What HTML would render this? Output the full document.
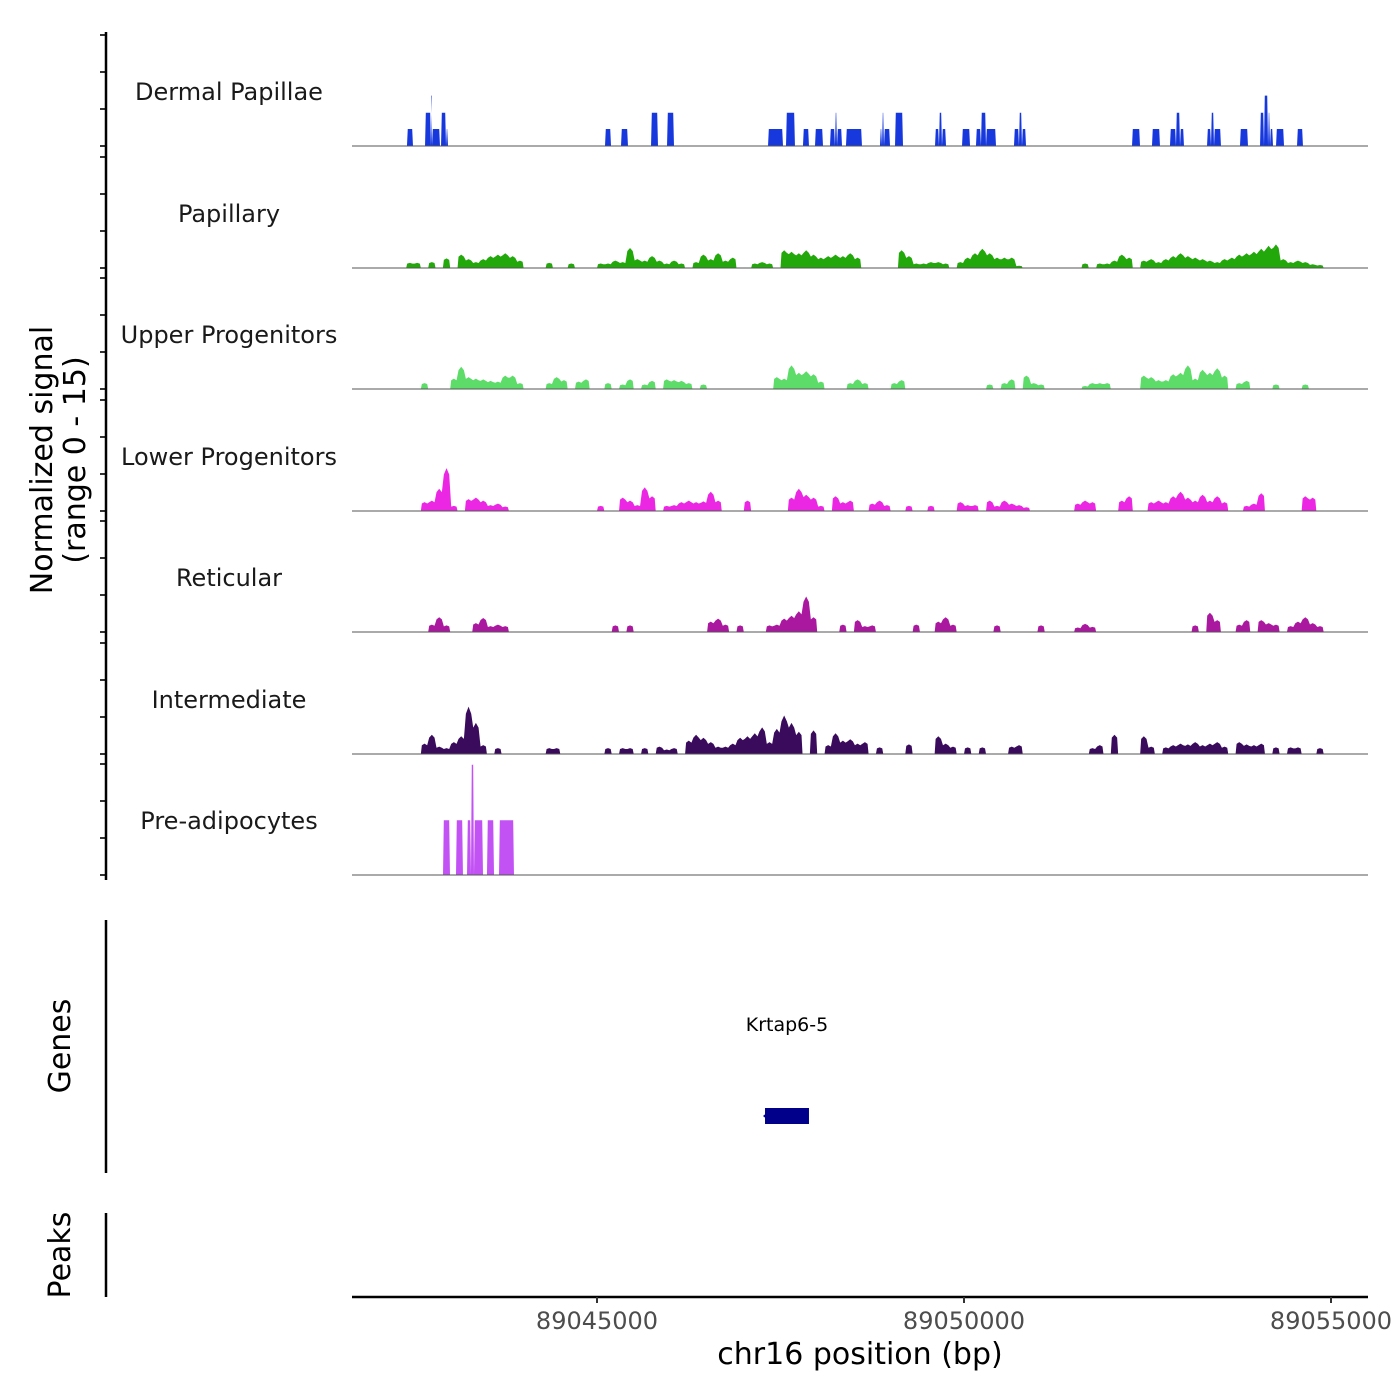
<!DOCTYPE html>
<html><head><meta charset="utf-8"><style>
body{margin:0;background:#fff;}
svg{display:block;font-family:"DejaVu Sans","Liberation Sans",sans-serif;}
</style></head><body>
<svg id="chart" width="1400" height="1400" viewBox="0 0 1400 1400"></svg>
<script>
const trackNames = ["Dermal Papillae","Papillary","Upper Progenitors","Lower Progenitors","Reticular","Intermediate","Pre-adipocytes"];
const trackColors = ["#1638dd","#22a80b","#5ddc69","#ec27e4","#aa189f","#3a0b5c","#c352f5"];
const xTicks = [89045000, 89050000, 89055000];
const binStart = 89041700;
const binSize = 100;
// segment tracks: [start, end, value]
const dermalPapillae = [[89042411,89042493,2.3],[89042657,89042738,4.5],[89042738,89042752,6.8],[89042752,89042861,2.3],[89042875,89042943,4.5],[89042943,89042970,2.3],
[89045109,89045191,2.3],[89045327,89045422,2.3],[89045736,89045831,4.5],[89045954,89046049,4.5],[89047330,89047534,2.3],[89047575,89047697,4.5],
[89047806,89047888,2.3],[89047970,89048079,2.3],[89048174,89048242,2.3],[89048242,89048270,4.5],[89048270,89048338,2.3],[89048392,89048610,2.3],
[89048855,89048883,2.3],[89048883,89048910,4.5],[89048910,89048992,2.3],[89049060,89049169,4.5],[89049605,89049659,2.3],[89049659,89049700,4.5],[89049700,89049755,2.3],
[89049973,89050082,2.3],[89050163,89050231,2.3],[89050231,89050300,4.5],[89050300,89050436,2.3],[89050681,89050749,2.3],[89050749,89050790,4.5],[89050790,89050845,2.3],
[89052289,89052398,2.3],[89052561,89052670,2.3],[89052806,89052888,2.3],[89052888,89052943,4.5],[89052943,89052997,2.3],[89053311,89053365,2.3],[89053365,89053406,4.5],[89053406,89053501,2.3],
[89053760,89053869,2.3],[89054033,89054087,4.5],[89054087,89054142,6.8],[89054142,89054169,4.5],[89054169,89054210,2.3],[89054251,89054360,2.3],[89054537,89054618,2.3]];
const preAdipocytes = [[89042902,89042997,7.4],[89043079,89043174,7.4],[89043229,89043283,7.4],[89043283,89043324,14.9],[89043324,89043447,7.4],[89043501,89043597,7.4],[89043665,89043869,7.4]];
// binned tracks (100 bp bins from binStart)
const papillary = [0,0,0,0,0,0,0,.7,.7,0, .8,0,1.3,0,1.8,1.2,.8,1.2,1.6,1.8, 2,1.6,1,0,0,0,.7,0,0,.6, 0,0,0,.6,.6,1,.8,2.7,1.2,1, 1.6,1,.6,1,.6,0,.8,1.8,1.2,2, 1,1.4,0,0,.6,.8,.6,0,2.4,2.2, 2,2.4,1.8,1.4,1.6,1.8,1.6,2,1.4,0, 0,0,0,0,2.4,1.6,.6,.6,.8,.8, .6,0,.8,1.4,2,2.6,2,1.4,1.4,1.4, .3,0,0,0,0,0,0,0,0,.6, 0,.6,.6,1,1.8,1.4,0,1,1.2,.8, 1.2,1.6,2,1.6,1.4,1.2,1,.8,1.2,1.4, 1.8,2,2.2,2.6,3,3.2,1.2,.8,1,.8, .5,.4,0,0,0,0,0,0];
const upperProgenitors = [0,0,0,0,0,0,0,0,0,.8, 0,0,0,1.4,3,1.6,1.4,1.3,1.1,1, 1.8,1.8,.8,0,0,0,.8,1.6,1.2,0, 1,1.3,0,0,.8,0,.6,1.3,0,.6, 1.1,0,1.3,1.2,1.1,.8,0,.6,0,0, 0,0,0,0,0,0,0,1.6,1.4,3.2, 2.2,2.4,2,1,0,0,0,.8,1.3,.8, 0,0,0,.8,1.2,0,0,0,0,0, 0,0,0,0,0,0,.6,0,.8,1.3, 0,1.8,.8,.6,0,0,0,0,0,.4, .8,.8,.8,0,0,0,0,1.8,1.6,1.2, 1.2,2,2.2,3.2,1.4,2.6,2.2,2.8,1.8,0, .8,1.1,0,0,0,.6,0,0,0,.6, 0,0,0,0,0,0,0,0];
const lowerProgenitors = [0,0,0,0,0,0,0,0,0,1.2, 1.4,3,5.8,.7,0,1.6,1.8,1.4,.8,1, .6,0,0,0,0,0,0,0,0,0, 0,0,0,.7,0,0,1.8,1.4,.8,3.2, 2,0,.7,.8,1.2,1.4,1.2,1.3,2.6,1.4, 0,0,0,1.4,0,0,0,0,0,1.8, 3,2.2,1.8,.7,0,2,1.2,1.4,0,0, 1,1.4,.8,0,0,.7,0,0,.7,0, 0,0,1.2,.8,.8,0,1.4,.7,1.4,1, .8,.5,0,0,0,0,0,0,1,1.4, 1.2,0,0,0,1.4,2,0,0,1.2,1.4, 1.2,2,2.6,1.8,1.4,2.2,1.4,2,1.2,0, 0,.7,1,2.4,0,0,0,0,0,2, 1.8,0,0,0,0,0,0,0];
const reticular = [0,0,0,0,0,0,0,0,0,0, 1,2,.9,0,0,0,1.2,1.9,.8,1, .8,0,0,0,0,0,0,0,0,0, 0,0,0,0,0,.9,0,.9,0,0, 0,0,0,0,0,0,0,0,1.4,1.8, 1,0,.9,0,0,0,.9,1,1.8,2.2, 2.8,4.8,2,0,0,0,1,0,1.6,.8, .9,0,0,0,0,0,1,0,0,1.4, 2,1,0,0,0,0,0,.9,0,0, 0,0,0,.9,0,0,0,0,.6,1.1, .7,0,0,0,0,0,0,0,0,0, 0,0,0,0,.9,0,2.6,1.6,0,0, 1,1.6,0,1.6,1.2,1,0,.8,1.4,2, 1.2,.8,0,0,0,0,0,0];
const intermediate = [0,0,0,0,0,0,0,0,0,1.4, 2.6,1,.8,1.6,2.4,6.4,4.2,1.2,0,.8, 0,0,0,0,0,0,.8,.8,0,0, 0,0,0,0,.8,0,.8,.8,0,.8, 0,1,.6,.8,0,1.8,2.6,2.2,1.6,1, 1,1.4,2.2,2.4,2.8,3.6,1.6,3.4,5.2,4.2, 3,0,3.2,0,1.2,2.8,1.8,2,1.4,1.6, 0,.9,0,0,0,1.3,0,0,0,2.4, 1.4,1,0,.9,0,.9,0,0,0,1, 1.2,0,0,0,0,0,0,0,0,0, .8,1.2,0,2.6,0,0,0,2.4,1,0, .9,1.2,1.4,1.3,1.6,1.2,1.4,1.6,1,0, 1.6,1.3,1.2,1.4,0,.9,0,.9,.9,0, 0,.8,0,0,0,0,0,0];
const genes = [{name:"Krtap6-5", start:89047289, end:89047888, strand:"-"}];

const NS="http://www.w3.org/2000/svg";
const svg=document.getElementById('chart');
const X0=352,X1=1368;
function xs(bp){return 597+(bp-89045000)*(367/5000);}
const baselines=[146,268,389,511,632,754,875];
const unitPx=111/15;
function ys(i,v){return baselines[i]-v*unitPx;}
function mk(tag,attrs,parent){const e=document.createElementNS(NS,tag);for(const k in attrs)e.setAttribute(k,attrs[k]);(parent||svg).appendChild(e);return e;}

const binned=[null,papillary,upperProgenitors,lowerProgenitors,reticular,intermediate,null];
for(let i=0;i<7;i++){
  const g=mk('g',{});
  
  
  let d='';
  if(i===0||i===6){
    const segs=i===0?dermalPapillae:preAdipocytes;
    segs.forEach(s=>{const a=xs(s[0]),b=xs(s[1]),y=ys(i,s[2]);d+=`M${a},${baselines[i]}L${a+0.8},${y}L${b-0.8},${y}L${b},${baselines[i]}Z`;});
  } else {
    const arr=binned[i];
    let open=false;
    arr.forEach((v,k)=>{
      const a=xs(binStart+k*binSize),b=xs(binStart+(k+1)*binSize);
      if(v>0){
        if(!open){d+=`M${a},${baselines[i]}`;open=true;}
        d+=`L${a+1},${ys(i,v*0.85)}L${(a+b)/2},${ys(i,v)}L${b-1},${ys(i,v*0.85)}`;
      } else if(open){d+=`L${a},${baselines[i]}Z`;open=false;}
    });
    if(open)d+=`L${xs(binStart+arr.length*binSize)},${baselines[i]}Z`;
  }
  const p=mk('path',{d:d,fill:trackColors[i]},g);
  
  
  const bl=mk('line',{x1:X0,x2:X1,y1:baselines[i],y2:baselines[i],stroke:'#555','stroke-width':1},g);
  
  
  const t=mk('text',{x:229,y:baselines[i]-46,'text-anchor':'middle','font-size':24,fill:'#1a1a1a'},g);
  t.textContent=trackNames[i];
  
  
  for(let k=0;k<4;k++){
    const yy=baselines[i]-k*37;
    const tk=mk('line',{x1:100,x2:106,y1:yy,y2:yy,stroke:'#333','stroke-width':2});
    
    
  }
}
// left axes
[[32,880,'signal-y-axis'],[920,1173,'genes-axis'],[1213,1297,'peaks-axis']].forEach(a=>{
  const l=mk('line',{x1:106,x2:106,y1:a[0],y2:a[1],stroke:'#000','stroke-width':2.5});
  
  
});
const yt=mk('text',{transform:'translate(52,460) rotate(-90)','text-anchor':'middle','font-size':30,fill:'#000'});


yt.innerHTML='<tspan x="0" dy="0">Normalized signal</tspan><tspan x="0" dy="33">(range 0 - 15)</tspan>';
const gt=mk('text',{transform:'translate(70,1046) rotate(-90)','text-anchor':'middle','font-size':30,fill:'#000'});
gt.textContent='Genes';


const pt=mk('text',{transform:'translate(70,1255) rotate(-90)','text-anchor':'middle','font-size':30,fill:'#000'});
pt.textContent='Peaks';


// genes
genes.forEach(gn=>{
  const a=xs(gn.start),b=xs(gn.end);
  const r=mk('rect',{x:a,y:1108,width:b-a,height:16,fill:'#00008b'});
  
  
  const ar=mk('path',{d:`M${a-2},1116L${a+4},1111L${a+4},1121Z`,fill:'#00008b'});
  
  
  const lt=mk('text',{x:(a+b)/2,y:1031,'text-anchor':'middle','font-size':19,fill:'#000'});
  lt.textContent=gn.name;
  
  
});
// x axis
const xa=mk('line',{x1:X0,x2:X1,y1:1297,y2:1297,stroke:'#000','stroke-width':2.5});


xTicks.forEach(v=>{
  const x=xs(v);
  const tk=mk('line',{x1:x,x2:x,y1:1297,y2:1303,stroke:'#333','stroke-width':2});
  
  
  const tl=mk('text',{x:x,y:1329,'text-anchor':'middle','font-size':24,fill:'#4d4d4d'});
  tl.textContent=v;
  
  
});
const xt=mk('text',{x:860,y:1364,'text-anchor':'middle','font-size':30,fill:'#000'});
xt.textContent='chr16 position (bp)';


</script>
</body></html>
